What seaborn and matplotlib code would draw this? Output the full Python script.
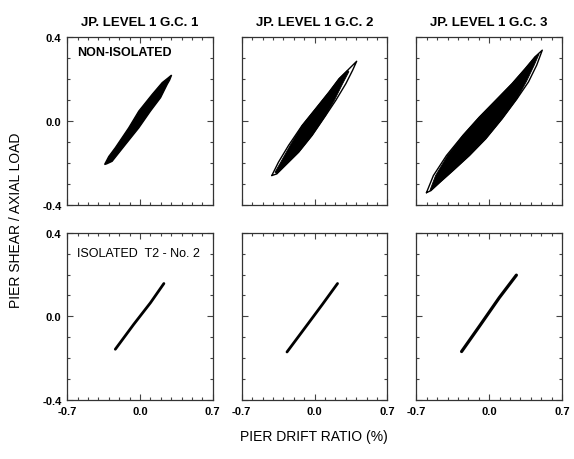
"""Pier shear / axial load vs pier drift ratio, non-isolated vs isolated piers."""
import matplotlib
matplotlib.use("Agg")
import matplotlib.pyplot as plt
import numpy as np
import seaborn as sns

# ---- data ----------------------------------------------------------------- #
COLUMN_TITLES = ["JP. LEVEL 1 G.C. 1", "JP. LEVEL 1 G.C. 2", "JP. LEVEL 1 G.C. 3"]
X_TICKS = [-0.7, 0.0, 0.7]
Y_TICKS = [-0.4, 0.0, 0.4]

# Non-isolated: outer cycle (thin line) and dense core of cycles (filled)
GC1_CORE_X = [-0.34, -0.30, -0.237, -0.108, -0.011, 0.118, 0.214, 0.27, 0.304,
              0.285, 0.262, 0.198, 0.101, -0.011, -0.14, -0.268, -0.32]
GC1_CORE_Y = [-0.208, -0.17, -0.128, -0.033, 0.047, 0.127, 0.183, 0.205, 0.219,
              0.195, 0.175, 0.111, 0.047, -0.033, -0.113, -0.193, -0.205]

GC2_OUTER_X = [-0.411, -0.347, -0.250, -0.120, 0.010, 0.139, 0.236, 0.318, 0.405,
               0.366, 0.301, 0.204, 0.107, -0.023, -0.152, -0.282, -0.363, -0.411]
GC2_OUTER_Y = [-0.261, -0.197, -0.117, -0.022, 0.058, 0.138, 0.202, 0.242, 0.285,
               0.242, 0.178, 0.098, 0.026, -0.069, -0.149, -0.213, -0.253, -0.261]
GC2_CORE_X = [-0.38, -0.325, -0.235, -0.120, 0.010, 0.139, 0.236, 0.318,
              0.33, 0.27, 0.19, 0.107, -0.023, -0.152, -0.282, -0.363]
GC2_CORE_Y = [-0.245, -0.197, -0.117, -0.022, 0.058, 0.138, 0.202, 0.242,
              0.235, 0.178, 0.098, 0.026, -0.069, -0.149, -0.213, -0.253]

GC3_OUTER_X = [-0.603, -0.536, -0.410, -0.252, -0.095, 0.063, 0.220, 0.347, 0.441, 0.511,
               0.457, 0.378, 0.268, 0.126, -0.032, -0.189, -0.347, -0.473, -0.560, -0.603]
GC3_OUTER_Y = [-0.343, -0.261, -0.165, -0.069, 0.018, 0.098, 0.178, 0.250, 0.306, 0.338,
               0.266, 0.186, 0.106, 0.011, -0.085, -0.165, -0.237, -0.293, -0.333, -0.343]
GC3_CORE_X = [-0.570, -0.515, -0.400, -0.252, -0.095, 0.063, 0.220, 0.347, 0.441, 0.48,
              0.433, 0.36, 0.268, 0.126, -0.032, -0.189, -0.347, -0.473, -0.555]
GC3_CORE_Y = [-0.333, -0.261, -0.165, -0.069, 0.018, 0.098, 0.178, 0.250, 0.306, 0.32,
              0.266, 0.19, 0.106, 0.011, -0.085, -0.165, -0.237, -0.293, -0.330]

# Isolated (T2 - No. 2): nearly linear response
ISO1_X = [-0.237, -0.060, 0.101, 0.230]
ISO1_Y = [-0.157, -0.038, 0.065, 0.157]
ISO2_X = [-0.265, -0.055, 0.075, 0.221]
ISO2_Y = [-0.170, -0.030, 0.057, 0.157]
ISO3_X = [-0.265, -0.092, 0.097, 0.262]
ISO3_Y = [-0.168, -0.046, 0.089, 0.197]

# ---- figure ---------------------------------------------------------------- #
sns.set_theme(style="ticks")
plt.rcParams["font.family"] = ["Liberation Sans", "DejaVu Sans"]
plt.rcParams["text.color"] = "black"

fig, axes = plt.subplots(2, 3, figsize=(5.74, 4.60), dpi=100,
                         sharex=True, sharey=True)
fig.subplots_adjust(left=0.117, right=0.979, bottom=0.128, top=0.917,
                    wspace=0.199, hspace=0.167)

top = axes[0]
top[0].fill(GC1_CORE_X, GC1_CORE_Y, color="black", lw=1.0, ec="black")

top[1].fill(GC2_CORE_X, GC2_CORE_Y, color="black", lw=0.6, ec="black")
sns.lineplot(x=GC2_OUTER_X, y=GC2_OUTER_Y, sort=False, estimator=None,
             color="black", lw=1.0, ax=top[1])

top[2].fill(GC3_CORE_X, GC3_CORE_Y, color="black", lw=0.6, ec="black")
sns.lineplot(x=GC3_OUTER_X, y=GC3_OUTER_Y, sort=False, estimator=None,
             color="black", lw=1.0, ax=top[2])

bottom = axes[1]
for ax, xs, ys, lw in zip(bottom, [ISO1_X, ISO2_X, ISO3_X],
                          [ISO1_Y, ISO2_Y, ISO3_Y], [2.0, 2.0, 2.3]):
    sns.lineplot(x=xs, y=ys, sort=False, estimator=None,
                 color="black", lw=lw, ax=ax)

for ax in axes.flat:
    ax.set_xlim(-0.7, 0.7)
    ax.set_ylim(-0.4, 0.4)
    ax.set_xticks(X_TICKS)
    ax.set_yticks(Y_TICKS)
    ax.set_xticks(np.arange(-0.7, 0.71, 0.1), minor=True)
    ax.set_yticks(np.arange(-0.4, 0.41, 0.1), minor=True)
    ax.xaxis.set_major_formatter(matplotlib.ticker.FormatStrFormatter("%.1f"))
    ax.yaxis.set_major_formatter(matplotlib.ticker.FormatStrFormatter("%.1f"))
    ax.tick_params(which="both", direction="in", top=True, right=True,
                   color="#444444", width=0.8, labelcolor="black")
    ax.tick_params(which="major", length=4, labelsize=8, pad=4)
    ax.tick_params(which="minor", length=2.5)
    for s in ax.spines.values():
        s.set_color("#333333")
        s.set_linewidth(0.9)
    ax.set_xlabel("")
    ax.set_ylabel("")
    for lab in ax.get_xticklabels() + ax.get_yticklabels():
        lab.set_fontweight("bold")

for ax, title in zip(top, COLUMN_TITLES):
    ax.set_title(title, fontsize=9.5, fontweight="bold", pad=9, color="black")

top[0].text(0.07, 0.91, "NON-ISOLATED", transform=top[0].transAxes,
            fontsize=9, fontweight="bold", va="center", ha="left")
bottom[0].text(0.07, 0.88, "ISOLATED  T2 - No. 2", transform=bottom[0].transAxes,
               fontsize=9, va="center", ha="left")

fig.text(0.028, 0.52, "PIER SHEAR / AXIAL LOAD", rotation=90,
         fontsize=10, va="center", ha="center")
fig.text(0.546, 0.05, "PIER DRIFT RATIO (%)", fontsize=10,
         va="center", ha="center")

fig.savefig("out.png", dpi=100)
